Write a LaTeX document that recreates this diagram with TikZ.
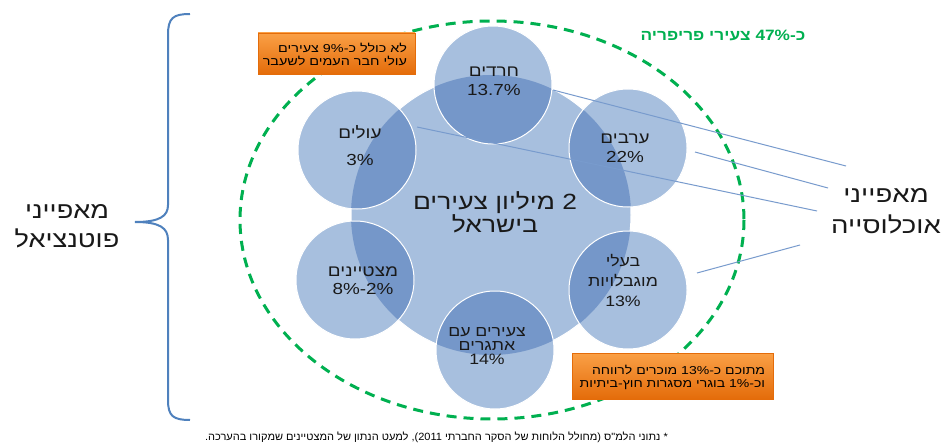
\documentclass[tikz,border=0pt]{standalone}
\usepackage{fontspec}
\usetikzlibrary{calc}
\setmainfont{Liberation Sans}
\newfontfamily\he[Script=Hebrew]{Liberation Sans}
\newfontfamily\lat{Liberation Sans}
\TeXXeTstate=1
\newcommand\heb[1]{{\he\beginR #1\endR}}
\newcommand\ltr[1]{\beginL{\lat #1}\endL{}}
\newcommand\sx[2]{\scalebox{#1}[1]{#2}}
\newcommand\cl[1]{\scalebox{1.18}[1]{#1}}
\definecolor{lblue}{RGB}{167,191,222}
\definecolor{dblue}{RGB}{117,151,201}
\definecolor{braceblue}{RGB}{79,129,189}
\definecolor{lineblue}{RGB}{120,155,205}
\definecolor{pgreen}{RGB}{0,176,80}
\definecolor{orA}{RGB}{250,160,70}
\definecolor{orB}{RGB}{228,108,10}
\definecolor{txt}{RGB}{25,25,25}
\tikzset{
  lbl/.style={align=center, text=txt, font=\fontsize{16}{19}\selectfont},
  obox/.style={draw=orB, line width=0.6pt, top color=orA, bottom color=orB, inner sep=0pt},
  otext/.style={align=right, anchor=east, text=black, inner sep=0pt, font=\fontsize{11.5}{13}\selectfont},
  conn/.style={draw=lineblue, line width=1pt},
  greendash/.style={draw=pgreen, line width=3pt, dash pattern=on 10pt off 7pt},
  biglbl/.style={align=center, text=txt, font=\fontsize{23}{31}\selectfont},
}
\begin{document}
\begin{tikzpicture}[x=1pt,y=-1pt]
\useasboundingbox (0,0) rectangle (943,444);
\fill[white] (0,0) rectangle (943,444);
% coordinates
\coordinate (C) at (491,215);
\coordinate (p1) at (493,85);
\coordinate (p2) at (628,148);
\coordinate (p3) at (628,290);
\coordinate (p4) at (495,350);
\coordinate (p5) at (355,280);
\coordinate (p6) at (357,150);
% green ellipse
\draw[greendash] (492,220) ellipse [x radius=252, y radius=199];
% big circle and small circles
\fill[lblue] (C) circle (140);
\draw[white, line width=1pt] (C) circle (140);
\foreach \p in {p1,p2,p3,p4,p5,p6} {\fill[lblue] (\p) circle (59);}
\foreach \p in {p1,p2,p3,p4,p5,p6} {
  \begin{scope}
    \clip (\p) circle (59);
    \fill[dblue] (C) circle (140);
  \end{scope}
}
\foreach \p in {p1,p2,p3,p4,p5,p6} {\draw[white, line width=1pt] (\p) circle (59);}
% center text
\node[align=center, text=txt, font=\fontsize{22}{22}\selectfont] (center) at (495,212) {\sx{1.2}{\heb{2 מיליון צעירים}}\\\sx{1.2}{\heb{בישראל}}};
% circle labels
\node[lbl] (n1) at (494,81) {\cl{\heb{חרדים}}\\ \cl{\ltr{13.7\%}}};
\node[lbl] (n2) at (625,148) {\cl{\heb{ערבים}}\\ \cl{\ltr{22\%}}};
\node[lbl, font=\fontsize{15}{20}\selectfont] (n3) at (623,280) {\cl{\heb{בעלי}}\\\cl{\heb{מוגבלויות}}\\ \cl{\ltr{13\%}}};
\node[lbl, font=\fontsize{15}{14}\selectfont] (n4) at (487,346) {\cl{\heb{צעירים עם}}\\\cl{\heb{אתגרים}}\\ \cl{\ltr{14\%}}};
\node[lbl, font=\fontsize{16}{18}\selectfont] (n5) at (363,281) {\cl{\heb{מצטיינים}}\\ \cl{\ltr{8\%-2\%}}};
\node[lbl, font=\fontsize{16}{27}\selectfont] (n6) at (360,146) {\cl{\heb{עולים}}\\ \cl{\ltr{3\%}}};
% green text
\node[text=pgreen, font=\bfseries\fontsize{15}{16}\selectfont] (green) at (723,35) {\sx{1.15}{\heb{כ-\ltr{\bfseries 47\%} צעירי פריפריה}}};
% orange boxes
\node[obox, minimum width=157pt, minimum height=41pt] (box1) at (336.5,53.5) {};
\node[otext] (t1) at ($(box1.east)+(-8,1)$) {\sx{1.25}{\heb{לא כולל כ-\ltr{9\%} צעירים}}\\\sx{1.25}{\heb{עולי חבר העמים לשעבר}}};
\node[obox, minimum width=201pt, minimum height=46pt] (box2) at (672.5,376) {};
\node[otext] (t2) at ($(box2.east)+(-8,1)$) {\sx{1.22}{\heb{מתוכם כ-\ltr{13\%} מוכרים לרווחה}}\\\sx{1.22}{\heb{וכ-\ltr{1\%} בוגרי מסגרות חוץ-ביתיות}}};
% right / left labels
\node[biglbl] (right) at (886,211) {\sx{1.2}{\heb{מאפייני}}\\\sx{1.2}{\heb{אוכלוסייה}}};
\node[biglbl, font=\fontsize{23}{29}\selectfont] (left) at (67,226) {\sx{1.18}{\heb{מאפייני}}\\\sx{1.18}{\heb{פוטנציאל}}};
% brace
\draw[braceblue, line width=2pt] (190,14) .. controls (173,14) and (168,18) .. (168,35) -- (168,205) .. controls (168,216) and (160,222) .. (135,222) .. controls (160,222) and (168,228) .. (168,240) -- (168,400) .. controls (168,416) and (173,420) .. (190,420);
% connectors
\coordinate (e1) at (553,90);
\coordinate (e2) at (695,152);
\coordinate (e3) at (417,127);
\coordinate (e4) at (697,273);
\coordinate (r1) at (846,166);
\coordinate (r2) at (828,188);
\coordinate (r3) at (817,211);
\coordinate (r4) at (800,245);
\draw[conn] (e1) -- (r1);
\draw[conn] (e2) -- (r2);
\draw[conn] (e3) -- (r3);
\draw[conn] (e4) -- (r4);
% footnote
\node[anchor=east, inner sep=0pt, font=\fontsize{10.5}{12}\selectfont] (foot) at (668,437) {\sx{1.05}{\heb{* נתוני הלמ"ס (מחולל הלוחות של הסקר החברתי \ltr{2011}), למעט הנתון של המצטיינים שמקורו בהערכה.}}};
\end{tikzpicture}
\end{document}
